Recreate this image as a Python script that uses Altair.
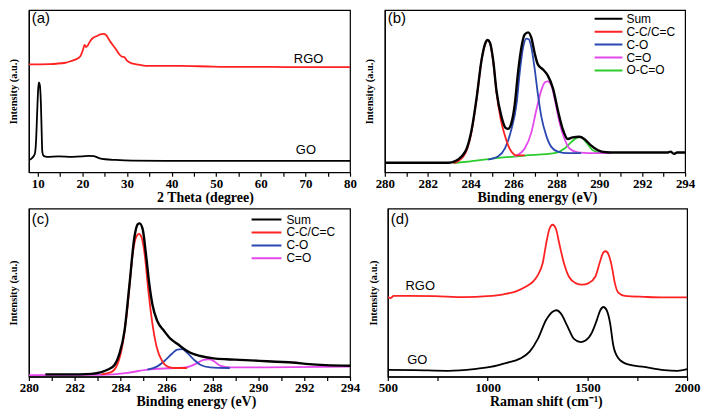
import altair as alt
import pandas as pd

# ---------------- (a) XRD ----------------
XRD_RGO_X = [8, 12.5, 16.2, 17.3, 18.4, 19.5, 20.1, 20.5, 20.8, 21.2, 21.8, 22.5, 23.3, 24.0, 24.7, 25.3,
             25.9, 26.6, 27.4, 28.1, 28.8, 29.4, 30.0, 31.1, 32.6, 34.8, 38.5, 42, 46, 55, 62, 70, 80]
XRD_RGO_Y = [114, 114.3, 115.7, 117.3, 119, 122.3, 129, 134.7, 132.3, 134, 139, 142.3, 144, 145.7, 146.3, 145,
             140.7, 135.7, 130.7, 125.7, 122.3, 121.7, 118, 115, 113.7, 112.3, 112.3, 112.3, 112, 111.3, 111.3, 111, 111]
XRD_GO_X = [8, 8.7, 9.3, 9.6, 9.85, 10.1, 10.25, 10.45, 10.7, 10.85, 11.0, 11.3, 12.1, 14.7, 17.7, 19.9,
            21.4, 22.5, 23.7, 25.1, 27.4, 31.1, 38.6, 46, 61, 80]
XRD_GO_Y = [13, 15, 19, 32, 62, 89, 95, 92.3, 72, 45.7, 22.3, 17.3, 16.3, 16.7, 16.3, 16.7,
            17.3, 17, 15, 13.7, 13, 12.3, 12, 12, 12, 12]
XRD_LABELS = ["RGO", "GO"]
XRD_LABEL_X = [70.7, 70.1]
XRD_LABEL_Y = [119.7, 23]

# ---------------- (b) XPS GO ----------------
B_SUM_X = [280, 282.97, 283.28, 283.59, 283.82, 284.05, 284.28, 284.51, 284.67, 284.79, 284.9, 285.05, 285.21,
           285.44, 285.63, 285.75, 285.9, 286.06, 286.21, 286.37, 286.52, 286.68, 286.83, 286.99, 287.14, 287.37,
           287.6, 287.84, 288.07, 288.3, 288.53, 288.76, 289.07, 289.3, 289.61, 289.92, 290.31, 290.7, 292.24,
           293.17, 293.32, 293.48, 293.63, 294]
B_SUM_Y = [10, 10, 11.7, 16.7, 25, 45, 78.3, 118.3, 135, 139.3, 136.7, 118.3, 85,
           58.3, 46.7, 45.7, 51.7, 71.7, 105, 131.7, 145, 147.3, 141.7, 125, 113.3, 108.3,
           101.7, 88.3, 65, 45, 35, 36.7, 37.3, 35, 28.3, 23.3, 21, 20.7, 20.7,
           20.7, 21.7, 19.3, 20.7, 20.7]
B_CC_X = [283.2, 283.43, 283.82, 284.05, 284.28, 284.51, 284.67, 284.79, 284.9, 285.05, 285.21, 285.41, 285.6,
          285.75, 285.9, 286.14, 286.52]
B_CC_Y = [9.6, 11.7, 23.3, 43.3, 77.3, 117.7, 134.3, 139, 136.3, 116.7, 83.3, 55, 38.3,
          28.3, 21.7, 17.7, 17.7]
B_CO_X = [284.82, 285.29, 285.6, 285.9, 286.14, 286.29, 286.45, 286.6, 286.71, 286.83, 286.99, 287.14, 287.3,
          287.53, 287.76, 288.07, 288.53, 289.15]
B_CO_Y = [13.3, 16.7, 25, 45, 71.7, 105, 131.7, 140.7, 140, 131.7, 108.3, 81.7, 58.3,
          38.3, 26.7, 21.7, 20, 20]
B_CEO_X = [286.06, 286.52, 286.83, 287.06, 287.3, 287.48, 287.6, 287.76, 287.94, 288.15, 288.38, 288.61, 289.0,
           289.92, 290.54]
B_CEO_Y = [16.7, 25, 41.7, 65, 86.7, 95, 95.7, 91.7, 75, 51.7, 35, 25, 21, 20, 20]
B_OCO_X = [283.2, 284.0, 285.29, 286.5, 287.91, 288.38, 288.69, 289.0, 289.15, 289.38, 289.69, 290.0, 290.54]
B_OCO_Y = [9.7, 11.5, 15, 17.5, 20, 25, 31.7, 36.7, 37, 31.7, 23.3, 20.7, 20.7]

# ---------------- (c) XPS RGO ----------------
C_SUM_X = [280.72, 281.72, 282.73, 283.16, 283.45, 283.74, 283.95, 284.17, 284.38, 284.6, 284.74, 284.83,
           284.96, 285.1, 285.24, 285.39, 285.6, 285.89, 286.18, 286.47, 286.75, 287.04, 287.47, 288.05,
           288.62, 289.2, 290.06, 290.78, 291.49, 292.21, 292.93, 294]
C_SUM_Y = [0.7, 0.7, 1.3, 3, 5.7, 10.7, 22.3, 45.7, 92.3, 142.3, 155.7, 156.7,
           150.7, 125.7, 95.7, 72.3, 55.7, 45.7, 37.3, 32.3, 27.3, 23, 19.7, 17.3,
           16.3, 15.7, 14.7, 13.7, 13, 11.3, 10.3, 9.7]
C_CC_X = [283.16, 283.59, 283.88, 284.09, 284.31, 284.53, 284.67, 284.8, 284.91, 285.06, 285.2, 285.39,
          285.57, 285.82, 286.03, 286.32, 286.9]
C_CC_Y = [0.7, 3, 12.3, 32.3, 72.3, 125.7, 142.3, 145.7, 142.3, 122.3, 89, 52.3, 29, 14, 9, 7.3, 7.3]
C_CO_X = [285.17, 285.6, 285.96, 286.25, 286.47, 286.68, 286.9, 287.18, 287.47, 287.9, 288.76]
C_CO_Y = [5.7, 9, 15.7, 22.3, 26.3, 26.7, 23, 16.3, 10.7, 8, 7.3]
C_CEO_X = [280, 283.16, 284.31, 285.17, 286.32, 286.9, 287.33, 287.61, 287.83, 288.05, 288.33, 288.76, 290.34, 294]
C_CEO_Y = [0, 0.3, 2.3, 5.7, 7.3, 8.3, 12.3, 15.7, 16.3, 14.7, 9.7, 8, 8, 8.7]

# ---------------- (d) Raman ----------------
D_RGO_X = [500, 513, 530, 603, 735, 883, 998, 1080, 1146, 1195, 1228, 1252, 1277, 1294, 1310, 1326, 1343,
           1359, 1384, 1408, 1441, 1474, 1507, 1540, 1565, 1581, 1593, 1606, 1622, 1638, 1655, 1688, 1786, 1885, 2000]
D_RGO_Y = [83.3, 82, 84.3, 84.3, 84, 83, 84, 86, 89.3, 94.3, 99.3, 106, 119.3, 139.3, 154.3, 158.7, 154.3,
           139.3, 117.7, 104.3, 97.7, 96, 97.7, 104.3, 121, 130, 131, 127.7, 116, 97.7, 87.7, 84.3, 83.3, 82.7, 82.7]
D_GO_X = [500, 636, 801, 932, 1014, 1096, 1162, 1211, 1252, 1294, 1326, 1346, 1367, 1400, 1433, 1466, 1491,
          1523, 1548, 1565, 1581, 1597, 1614, 1630, 1655, 1704, 1786, 1885, 1951, 2000]
D_GO_Y = [7, 6.7, 6, 7.7, 10, 14.3, 18.7, 26, 39.3, 59.3, 67.7, 69.3, 66, 52.7, 39.3, 36, 37.7,
          46, 59.3, 69.3, 72.7, 69.3, 56, 32.7, 19.3, 12.7, 10, 6.7, 6, 7.7]
RAMAN_LABELS = ["RGO", "GO"]
RAMAN_LABEL_X = [662.6, 648]
RAMAN_LABEL_Y = [94.3, 17]

PANEL_LETTERS = ["(a)", "(b)", "(c)", "(d)"]

RED = "#ff2222"
BLACK = "#000000"
BLUE = "#2a48b0"
MAGENTA = "#e448ec"
GREEN = "#2ccc2c"

SERIES_B = ["Sum", "C-C/C=C", "C-O", "C=O", "O-C=O"]
COLORS_B = [BLACK, RED, BLUE, MAGENTA, GREEN]
SERIES_C = ["Sum", "C-C/C=C", "C-O", "C=O"]
COLORS_C = [BLACK, RED, BLUE, MAGENTA]
SAMPLES = ["RGO", "GO"]
COLORS_S = [RED, BLACK]


def frame(triples):
    rows = []
    for name, xs, ys in triples:
        for i, (x, y) in enumerate(zip(xs, ys)):
            rows.append({"series": name, "x": x, "y": y, "i": i})
    return pd.DataFrame(rows)


def make_panel(df, letter, xdom, ticks, major, xtitle, title_x, ydom, w, h, sdom, srange,
               legend, ytp, labels_df=None, thick="Sum", letter_y=9):
    X = alt.X("x:Q", scale=alt.Scale(domain=xdom, nice=False, zero=False),
              axis=alt.Axis(values=ticks,
                            labelExpr=f"datum.value % {major} === 0 ? datum.label : ''",
                            format="d", labelOverlap=False, labelFlush=False,
                            title=xtitle, titleX=title_x))
    Y = alt.Y("y:Q", scale=alt.Scale(domain=ydom, nice=False, zero=False),
              axis=alt.Axis(title="Intensity (a.u.)", titlePadding=ytp, ticks=False, labels=False))
    lines = alt.Chart(df).mark_line(interpolate="monotone", clip=True).encode(
        x=X, y=Y,
        color=alt.Color("series:N", scale=alt.Scale(domain=sdom, range=srange), legend=legend),
        strokeWidth=alt.condition(alt.datum.series == thick, alt.value(2.4), alt.value(1.8)),
        order="i:Q",
    )
    layers = [lines]
    if labels_df is not None:
        layers.append(
            alt.Chart(labels_df).mark_text(font="Liberation Sans", fontSize=13, color="black")
            .encode(x=X, y=Y, text="t:N")
        )
    layers.append(
        alt.Chart(pd.DataFrame({"t": [letter]}))
        .mark_text(font="Liberation Sans", fontSize=15, align="left", baseline="middle", color="black")
        .encode(x=alt.value(3), y=alt.value(letter_y), text="t:N")
    )
    return alt.layer(*layers).properties(width=w, height=h)


def legend_at(x, y, size, row_h, offset):
    return alt.Legend(orient="none", legendX=x, legendY=y, direction="vertical", title=None,
                      symbolType="stroke", symbolSize=size, symbolStrokeWidth=2,
                      labelFont="Liberation Sans", labelFontSize=12, labelColor="black",
                      labelOffset=offset, rowPadding=0, clipHeight=row_h, padding=0)


df_a = frame([("RGO", XRD_RGO_X, XRD_RGO_Y), ("GO", XRD_GO_X, XRD_GO_Y)])
lab_a = pd.DataFrame({"t": XRD_LABELS, "x": XRD_LABEL_X, "y": XRD_LABEL_Y})
df_b = frame([("O-C=O", B_OCO_X, B_OCO_Y), ("C=O", B_CEO_X, B_CEO_Y), ("C-O", B_CO_X, B_CO_Y),
              ("C-C/C=C", B_CC_X, B_CC_Y), ("Sum", B_SUM_X, B_SUM_Y)])
df_c = frame([("C=O", C_CEO_X, C_CEO_Y), ("C-O", C_CO_X, C_CO_Y),
              ("C-C/C=C", C_CC_X, C_CC_Y), ("Sum", C_SUM_X, C_SUM_Y)])
df_d = frame([("RGO", D_RGO_X, D_RGO_Y), ("GO", D_GO_X, D_GO_Y)])
lab_d = pd.DataFrame({"t": RAMAN_LABELS, "x": RAMAN_LABEL_X, "y": RAMAN_LABEL_Y})

xps_ticks = list(range(280, 295))

pa = make_panel(df_a, PANEL_LETTERS[0], [8, 80], list(range(10, 81, 5)), 10, "2 Theta (degree)", 177,
                [0, 171.3], 323, 163, SAMPLES, COLORS_S, None, 10, lab_a, thick="none", letter_y=8)
pb = make_panel(df_b, PANEL_LETTERS[1], [280, 294], xps_ticks, 2, "Binding energy (eV)", 153,
                [0, 170.7], 302, 163, SERIES_B, COLORS_B, legend_at(210, 3.5, 784, 10.3, 3), 10,
                letter_y=8)
pc = make_panel(df_c, PANEL_LETTERS[2], [280, 294], xps_ticks, 2, "Binding energy (eV)", 168,
                [-1.5, 172], 323, 169, SERIES_C, COLORS_C, legend_at(223, 5.5, 900, 11.2, 4), 10,
                letter_y=11)
pd_ = make_panel(df_d, PANEL_LETTERS[3], [500, 2000], list(range(500, 2001, 250)), 500, "Raman shift (cm⁻¹)", 159,
                 [0, 175.7], 301, 169, SAMPLES, COLORS_S, None, 9, lab_d, thick="none", letter_y=11)

top = alt.hconcat(pa, pb, spacing=6).resolve_scale(color="independent")
bottom = alt.hconcat(pc, pd_, spacing=7).resolve_scale(color="independent")

chart = (
    alt.vconcat(top, bottom, spacing=2.5)
    .resolve_scale(color="independent")
    .properties(padding={"top": 0, "left": 0, "right": 0, "bottom": 0})
    .configure_view(stroke="black", strokeWidth=1.2)
    .configure_axis(domainColor="black", domainWidth=1.2, tickColor="black", tickWidth=1.2,
                    labelFont="Liberation Serif", labelFontWeight="bold", labelFontSize=13,
                    labelColor="black", titleFont="Liberation Serif", titleFontWeight="bold",
                    titleColor="black", grid=False)
    .configure_axisX(titleFontSize=14, tickSize=4, labelPadding=1, titlePadding=0)
    .configure_axisY(titleFontSize=10.5)
)

chart.save("out.html", embed_options={"renderer": "svg", "actions": False})
